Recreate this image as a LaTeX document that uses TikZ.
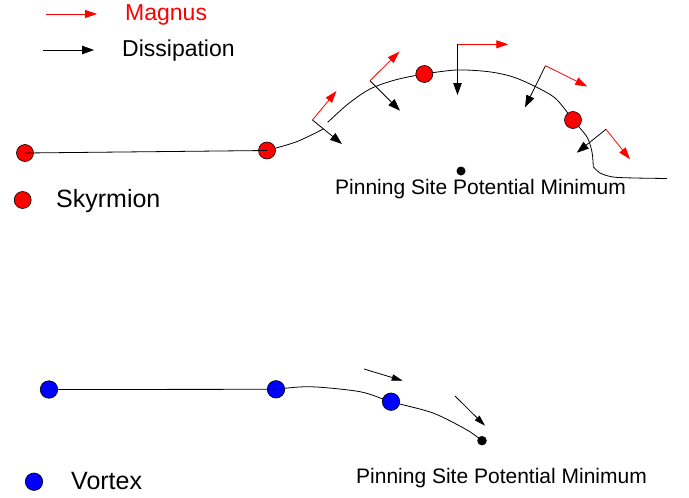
\documentclass[tikz,border=0pt]{standalone}
\usepackage{fontspec}
\setmainfont{Liberation Sans}
\usetikzlibrary{arrows.meta,backgrounds}
\begin{document}
\begin{tikzpicture}[x=1pt,y=-1pt,
  sky/.style={circle,draw=black,fill=red,line width=0.6pt,minimum size=17pt,inner sep=0pt},
  vor/.style={circle,draw=black,fill=blue,line width=0.6pt,minimum size=17.5pt,inner sep=0pt},
  pin/.style={circle,fill=black,minimum size=9pt,inner sep=0pt},
  path/.style={draw=black,line width=0.8pt},
  magarrow/.style={draw=red,line width=0.8pt,-{Triangle[length=12pt,width=8pt]}},
  disarrow/.style={draw=black,line width=0.8pt,-{Triangle[length=12pt,width=8.5pt]}},
  varrow/.style={draw=black,line width=0.8pt,-{Triangle[length=11pt,width=6.5pt]}},
  lab/.style={inner sep=0pt,anchor=base west},
]
\useasboundingbox (0,0) rectangle (689,498);

% legend
\coordinate (lm0) at (46,14); \coordinate (lm1) at (97,14);
\coordinate (ld0) at (43,50); \coordinate (ld1) at (94,50);
\draw[magarrow] (lm0) -- (lm1);
\draw[disarrow] (ld0) -- (ld1);
\node[lab,text=red,font=\fontsize{23}{26}\selectfont] (tmag) at (125,20.5) {Magnus};
\node[lab,font=\fontsize{23}{26}\selectfont] (tdis) at (122,56) {Dissipation};

% skyrmion trajectory
\node[sky] (s1) at (25,153) {};
\node[sky] (s2) at (267,150.5) {};
\node[sky] (s3) at (424.3,74) {};
\node[sky] (s4) at (573,120) {};
\node[pin] (sp) at (461,171) {};
\begin{pgfonlayer}{background}
\draw[path] plot[smooth] coordinates {(s2.center) (296.7,141.7) (323.3,129)};
\draw[path] plot[smooth] coordinates {(327.7,122.3) (348,104) (370,89) (395,80) (s3.center) (456.7,70) (487,71.5) (510,76) (530,84) (555,98) (s4.center) (587,137) (592,152) (593.3,166.7)};
\draw[path] plot[smooth] coordinates {(593.3,166.7) (600,173) (613,177) (635,178) (667,178.5)};
\end{pgfonlayer}
\draw[path] (s1.center) -- (s2.center);

% arrows at skyrmion
\coordinate (a1) at (312.5,120); \coordinate (a1m) at (336.5,91); \coordinate (a1d) at (342,144);
\coordinate (a2) at (370,80.7);  \coordinate (a2m) at (399.3,51.7); \coordinate (a2d) at (400,110.7);
\coordinate (a3) at (457.5,44.3); \coordinate (a3m) at (508.3,44.3); \coordinate (a3d) at (457.5,95);
\coordinate (a4) at (545.5,65.7); \coordinate (a4m) at (587.3,86.5); \coordinate (a4d) at (525,107.3);
\coordinate (a5) at (606,129.3); \coordinate (a5m) at (630,159.3); \coordinate (a5d) at (576.8,152.7);
\foreach \a in {a1,a2,a3,a4,a5}{
  \draw[magarrow] (\a) -- (\a m);
  \draw[disarrow] (\a) -- (\a d);
}

\node[sky] (skyleg) at (22.7,200) {};
\node[lab,font=\fontsize{25}{28}\selectfont] (tsky) at (56,207.3) {Skyrmion};
\node[lab,font=\fontsize{21}{24}\selectfont] (tpin1) at (335,194) {Pinning Site Potential Minimum};

% vortex trajectory
\node[vor] (v1) at (49,389.5) {};
\node[vor] (v2) at (276,389.3) {};
\node[vor] (v3) at (391,401.7) {};
\node[pin,minimum size=9.5pt] (vp) at (482,440.7) {};
\begin{pgfonlayer}{background}
\draw[path] plot[smooth] coordinates {(v2.center) (310,386.7) (360,391.7) (v3.center) (433,413) (467,430) (vp.center)};
\end{pgfonlayer}
\draw[path] (v1.center) -- (v2.center);

\coordinate (b1) at (364,369); \coordinate (b1e) at (402.7,380.7);
\coordinate (b2) at (455,396); \coordinate (b2e) at (485,425.7);
\draw[varrow] (b1) -- (b1e);
\draw[varrow] (b2) -- (b2e);

\node[vor] (vorleg) at (34,481.7) {};
\node[lab,font=\fontsize{25}{28}\selectfont] (tvor) at (71,489.3) {Vortex};
\node[lab,font=\fontsize{21}{24}\selectfont] (tpin2) at (356,483.3) {Pinning Site Potential Minimum};
\end{tikzpicture}
\end{document}
